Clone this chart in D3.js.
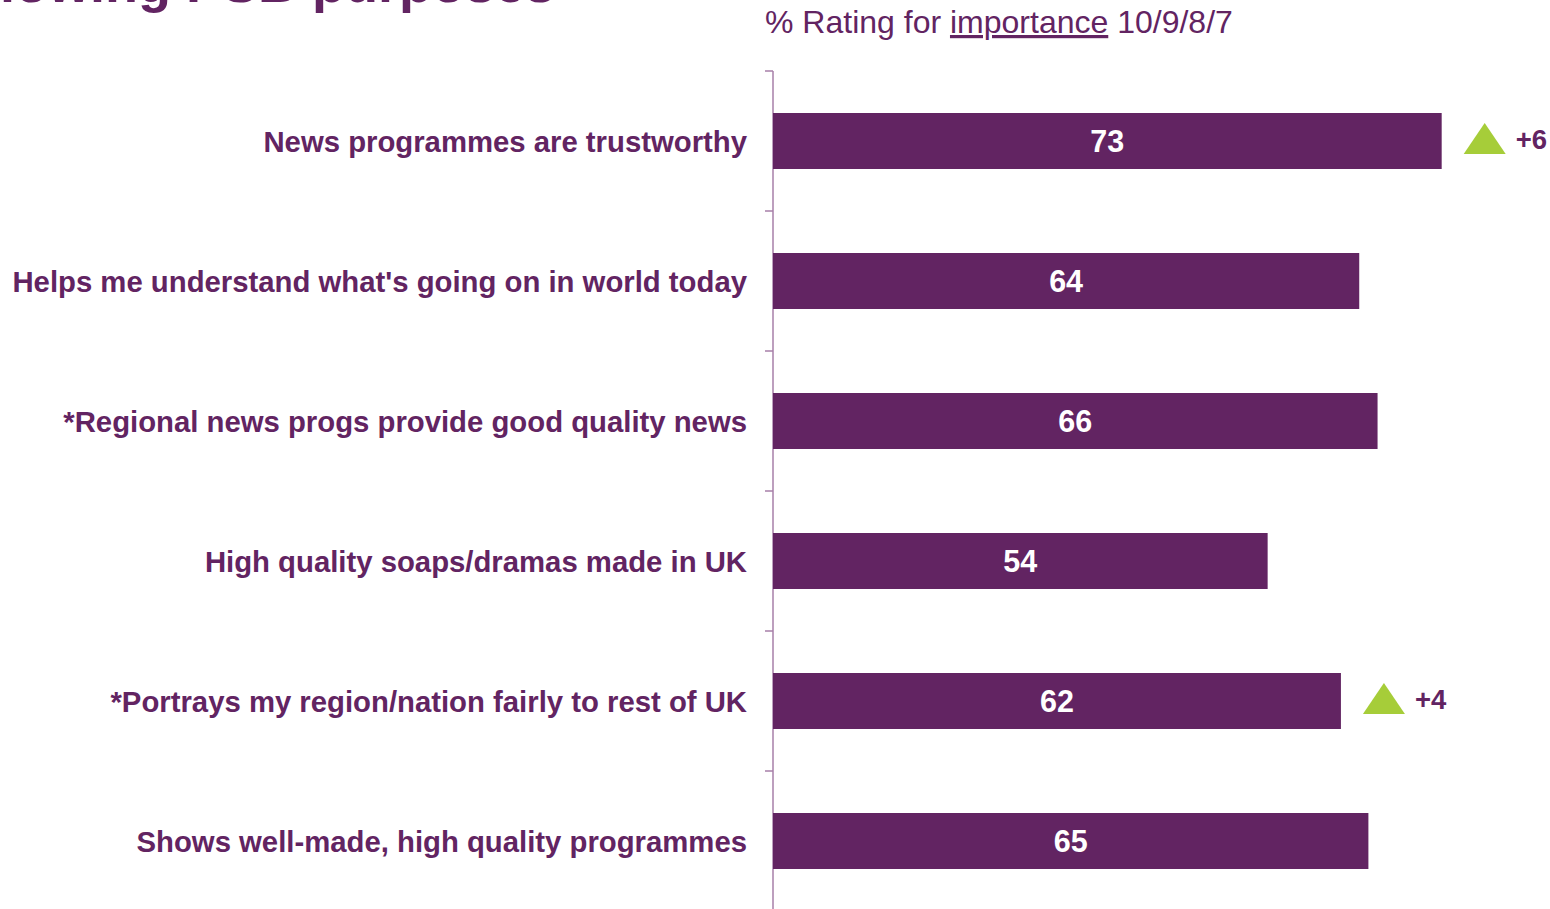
<!DOCTYPE html>
<html>
<head>
<meta charset="utf-8">
<script src="https://cdn.jsdelivr.net/npm/d3@7"></script>
<style>
  html, body { margin: 0; padding: 0; background: #fff; }
  svg { display: block; font-family: "Liberation Sans", Arial, sans-serif; }
</style>
</head>
<body>
<svg id="chart" width="1550" height="909"></svg>
<script>
// Share rating each purpose 10/9/8/7 for importance
const categories = [
  "News programmes are trustworthy",
  "Helps me understand what's going on in world today",
  "*Regional news progs provide good quality news",
  "High quality soaps/dramas made in UK",
  "*Portrays my region/nation fairly to rest of UK",
  "Shows well-made, high quality programmes"
];
const values = [73, 64, 66, 54, 62, 65];
// Significant change vs previous wave (null = no marker)
const changes = [6, null, null, null, 4, null];

const purple = "#622462";
const green = "#A6CD39";

const svg = d3.select("#chart");

const x = d3.scaleLinear().domain([0, 100]).range([773, 1689]);
const y = d3.scaleBand().domain(categories).range([71, 911]).paddingInner(0.6).paddingOuter(0.3);

// Title (runs off the top edge of the slide)
svg.append("text")
  .attr("x", 555).attr("y", 2)
  .attr("text-anchor", "end")
  .attr("font-size", 54).attr("font-weight", "bold")
  .attr("fill", purple)
  .text("Importance of the following PSB purposes");

// Subtitle with underlined keyword
const sub = svg.append("text")
  .attr("x", 765).attr("y", 33)
  .attr("font-size", 32)
  .attr("fill", purple);
sub.append("tspan").text("% Rating for ");
sub.append("tspan").attr("text-decoration", "underline").text("importance");
sub.append("tspan").text(" 10/9/8/7");

// Category axis: vertical rule with a tick at each band boundary
const step = y.step();
const tickYs = categories.map(c => y(c) + y.bandwidth() / 2 - step / 2);
const gAxis = svg.append("g").attr("transform", `translate(${x(0)},0)`);
gAxis.append("line")
  .attr("x1", 0).attr("x2", 0).attr("y1", tickYs[0]).attr("y2", 909)
  .attr("stroke", "#A77FA9").attr("stroke-width", 1.5);
gAxis.selectAll("line.tk").data(tickYs).join("line")
  .attr("class", "tk")
  .attr("x1", -8).attr("x2", 0).attr("y1", d => d).attr("y2", d => d)
  .attr("stroke", "#A77FA9").attr("stroke-width", 1.5);

// Category labels
svg.append("g").selectAll("text").data(categories).join("text")
  .attr("x", 747)
  .attr("y", d => y(d) + y.bandwidth() / 2)
  .attr("dy", "0.36em")
  .attr("text-anchor", "end")
  .attr("font-size", 29.3).attr("font-weight", "bold")
  .attr("fill", purple)
  .text(d => d);

// Bars
svg.append("g").selectAll("rect").data(values).join("rect")
  .attr("x", x(0))
  .attr("y", (d, i) => y(categories[i]))
  .attr("width", d => x(d) - x(0))
  .attr("height", y.bandwidth())
  .attr("fill", purple);

// Value labels
svg.append("g").selectAll("text").data(values).join("text")
  .attr("x", d => (x(0) + x(d)) / 2)
  .attr("y", (d, i) => y(categories[i]) + y.bandwidth() / 2)
  .attr("dy", "0.36em")
  .attr("text-anchor", "middle")
  .attr("font-size", 30.5).attr("font-weight", "bold")
  .attr("fill", "#fff")
  .text(d => d);

// Change markers
const marks = values.map((v, i) => ({ v, c: changes[i], cat: categories[i] })).filter(d => d.c != null);
const gm = svg.append("g").selectAll("g").data(marks).join("g")
  .attr("transform", d => `translate(${x(d.v) + 22},${y(d.cat) + y.bandwidth() / 2 - 2})`);
gm.append("path")
  .attr("d", "M0,15 L21,-16 L42,15 Z")
  .attr("fill", green);
gm.append("text")
  .attr("x", 52).attr("y", 0).attr("dy", "0.36em")
  .attr("font-size", 27.5).attr("font-weight", "bold")
  .attr("fill", purple)
  .text(d => "+" + d.c);
</script>
</body>
</html>
